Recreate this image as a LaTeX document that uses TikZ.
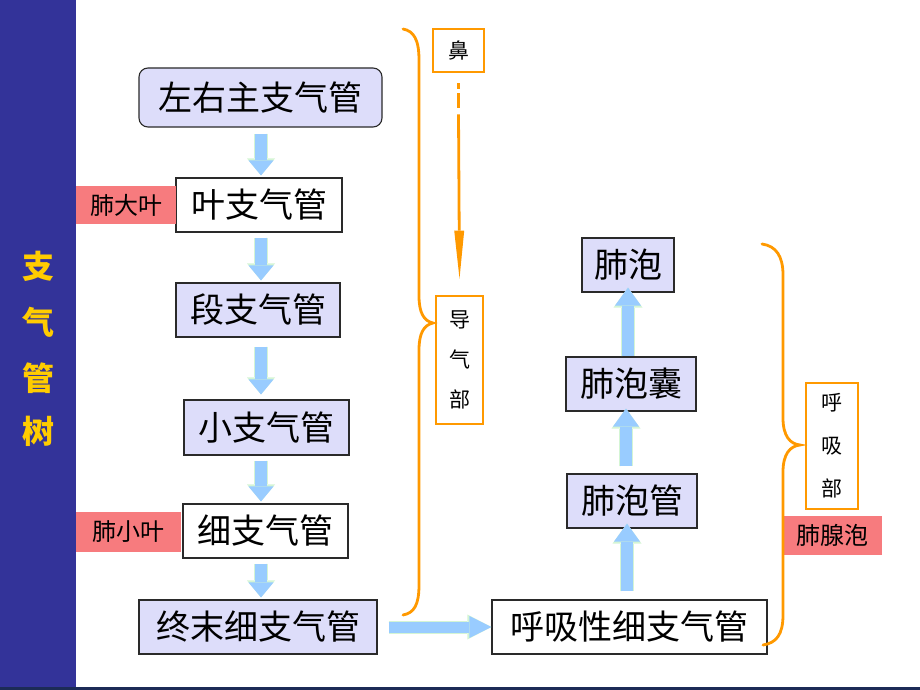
\documentclass[tikz,border=0pt]{standalone}
\usepackage{fontspec}
\setmainfont{Noto Sans CJK SC}
\usetikzlibrary{arrows.meta,calc}
\definecolor{lav}{HTML}{DDDDFA}
\definecolor{pinkred}{HTML}{F77B7E}
\definecolor{orng}{HTML}{FF9900}
\definecolor{arrblue}{HTML}{99CCFF}
\definecolor{arrgreen}{HTML}{D4F5D4}
\definecolor{side}{HTML}{333399}
\definecolor{gold}{HTML}{FFCC00}
\definecolor{navy}{HTML}{1C2B57}
\definecolor{edge}{HTML}{2A2A2A}
\tikzset{
  box/.style={draw=edge, line width=1.1pt, inner sep=0pt, font=\fontsize{34}{36}\selectfont},
  lavbox/.style={box, fill=lav},
  whitebox/.style={box, fill=white},
  tag/.style={fill=pinkred, inner sep=0pt, font=\fontsize{24}{26}\selectfont},
  obox/.style={draw=orng, line width=2.8pt, fill=white, inner sep=0pt, align=center},
  brace/.style={draw=orng, line width=2.8pt, line cap=round},
  sidetext/.style={text=gold, font=\fontsize{32}{34}\selectfont\bfseries},
  flowdown/.style={draw=arrblue, line width=12pt,
     preaction={draw=arrgreen, line width=14pt, -{Triangle[length=17pt,width=28pt,line width=0pt]}},
     -{Triangle[length=15pt,width=25pt,line width=0pt]}},
  flowup/.style={draw=arrblue, line width=12pt,
     preaction={draw=arrgreen, line width=14pt, -{Triangle[length=20pt,width=29pt,line width=0pt]}},
     -{Triangle[length=18pt,width=26pt,line width=0pt]}},
  flowright/.style={draw=arrblue, line width=11pt,
     preaction={draw=arrgreen, line width=13pt, -{Triangle[length=24pt,width=25pt,line width=0pt]}},
     -{Triangle[length=22pt,width=22pt,line width=0pt]}},
}
\begin{document}
\begin{tikzpicture}[x=1pt,y=-1pt]
\useasboundingbox (0,0) rectangle (920,690);
\fill[white] (0,0) rectangle (920,690);
% sidebar
\fill[side] (0,0) rectangle (76,690);
\fill[navy] (0,687) rectangle (920,690);
\node[sidetext] (s1) at (38,266) {支};
\node[sidetext] (s2) at (38,322) {气};
\node[sidetext] (s3) at (38,378) {管};
\node[sidetext] (s4) at (38,431) {树};

% left column
\node[lavbox, rounded corners=9pt, minimum width=243pt, minimum height=59pt] (lr) at (260.5,97.5) {左右主支气管};
\node[whitebox, minimum width=166pt, minimum height=54pt] (ye) at (259,205) {叶支气管};
\node[tag, minimum width=100pt, minimum height=38pt] (fdy) at (126,205) {肺大叶};
\node[lavbox, minimum width=164pt, minimum height=54pt] (duan) at (258,310) {段支气管};
\node[lavbox, minimum width=165pt, minimum height=55pt] (xiao) at (266.5,427.5) {小支气管};
\node[whitebox, minimum width=165pt, minimum height=54pt] (xi) at (265.5,531) {细支气管};
\node[tag, minimum width=105pt, minimum height=40pt] (fxy) at (128.5,532) {肺小叶};
\node[lavbox, minimum width=238pt, minimum height=54pt] (zm) at (258,627) {终末细支气管};

% right column
\node[whitebox, minimum width=275pt, minimum height=54pt] (hx) at (629.5,627) {呼吸性细支气管};
\node[lavbox, minimum width=130pt, minimum height=54pt] (fpg) at (632,501) {肺泡管};
\node[lavbox, minimum width=130pt, minimum height=54pt] (fpn) at (631,384) {肺泡囊};
\node[lavbox, minimum width=92pt, minimum height=54pt] (fp) at (628,265) {肺泡};

% orange boxes
\node[obox, minimum width=51pt, minimum height=43pt, font=\fontsize{21}{22}\selectfont] (bi) at (458.5,50.5) {鼻};
\node[obox, minimum width=47pt, minimum height=128pt, font=\fontsize{21}{40}\selectfont] (dqb) at (459.5,360) {导\\气\\部};
\node[obox, minimum width=52pt, minimum height=126pt, font=\fontsize{21}{43}\selectfont] (hxb) at (832,446) {呼\\吸\\部};
\node[tag, minimum width=99pt, minimum height=39pt] (fxp) at (832.5,535.5) {肺腺泡};

% down arrows
\draw[flowdown] ([shift={(0.5,6)}]lr.south) -- ([shift={(2,-2)}]ye.north);
\draw[flowdown] ([shift={(2,5)}]ye.south) -- ([shift={(3,-2)}]duan.north);
\draw[flowdown] ([shift={(3,9)}]duan.south) -- ([shift={(-5.5,-5)}]xiao.north);
\draw[flowdown] ([shift={(-5.5,5)}]xiao.south) -- ([shift={(-4.5,-2)}]xi.north);
\draw[flowdown] ([shift={(-4.5,5)}]xi.south) -- ([shift={(3,-2)}]zm.north);
% horizontal arrow
\draw[flowright] ([xshift=11pt]zm.east) -- (hx.west);
% up arrows
\draw[flowup] ([shift={(-2.5,-8)}]hx.north) -- ([shift={(-5,-5)}]fpg.south);
\draw[flowup] ([shift={(-6,-7)}]fpg.north) -- ([shift={(-5,-3)}]fpn.south);
\draw[flowup] ([shift={(-3,0)}]fpn.north) -- ([shift={(0,-5)}]fp.south);

% nose arrow
\draw[orng, line width=2.8pt] ($(bi.south)+(0,10)$) -- ($(bi.south)+(0,16)$);
\draw[orng, line width=2.8pt] ($(bi.south)+(0,20)$) -- ($(bi.south)+(0,35)$);
\draw[orng, line width=2.8pt, -{Triangle[length=48pt,width=10pt,line width=0pt]}] ($(bi.south)+(0,41)$) -- ($(dqb.north)+(0,-16)$);

% braces
\draw[brace] (403,29) .. controls (414,31) and (419,40) .. (419,60) -- (419,296)
  .. controls (419,313) and (424,321) .. (433,323)
  .. controls (424,325) and (419,333) .. (419,350) -- (419,585)
  .. controls (419,605) and (414,613) .. (403,615);
\draw[brace] (762,244) .. controls (776,246) and (783,256) .. (783,275) -- (783,418)
  .. controls (783,436) and (790,444) .. (800,445)
  .. controls (790,446) and (783,454) .. (783,472) -- (783,615)
  .. controls (783,635) and (776,643) .. (763,645);
\end{tikzpicture}
\end{document}
